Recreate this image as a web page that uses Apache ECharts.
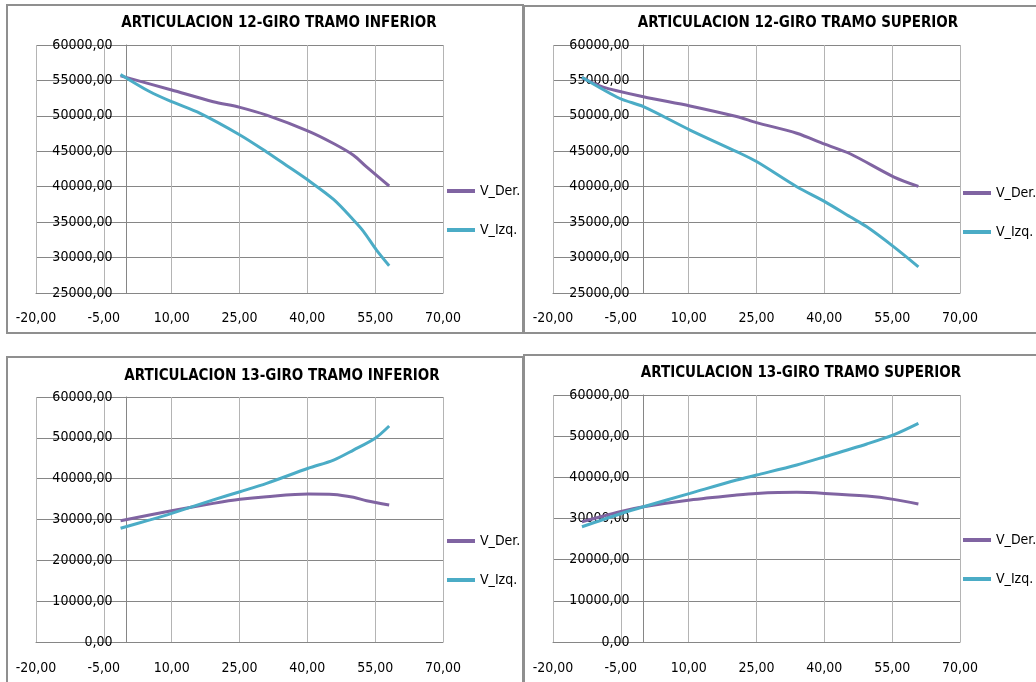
<!DOCTYPE html>
<html>
<head>
<meta charset="utf-8">
<title>Articulaciones 12 y 13 - Giro</title>
<script src="https://cdn.jsdelivr.net/npm/echarts@6/dist/echarts.min.js"></script>
<style>
  html, body { margin: 0; padding: 0; background: #ffffff; }
  #chart { width: 1036px; height: 682px; }
</style>
</head>
<body>
<div id="chart"></div>
<script>
// Panel titles
const titles = [
  'ARTICULACION 12-GIRO TRAMO INFERIOR',
  'ARTICULACION 12-GIRO TRAMO SUPERIOR',
  'ARTICULACION 13-GIRO TRAMO INFERIOR',
  'ARTICULACION 13-GIRO TRAMO SUPERIOR'
];
const seriesNames = ['V_Der.', 'V_Izq.'];

// Axis ticks
const xTicks = [-20, -5, 10, 25, 40, 55, 70];
const yTicks12 = [25000, 30000, 35000, 40000, 45000, 50000, 55000, 60000];
const yTicks13 = [0, 10000, 20000, 30000, 40000, 50000, 60000];

// Articulación 12 - tramo inferior  [giro, V]
const art12InfDer = [[-1.3,55650],[10.0,53650],[19.2,52000],[25.1,51200],[31.0,50100],[40.2,47850],[45.8,46100],[50.2,44450],[53.1,42800],[58.1,40100]];
const art12InfIzq = [[-1.3,55850],[5.2,53400],[10.0,52000],[16.3,50350],[25.1,47300],[31.0,44900],[35.4,43000],[40.2,40900],[45.8,38200],[50.2,35300],[52.4,33700],[55.3,31050],[58.1,28850]];

// Articulación 12 - tramo superior
const art12SupDer = [[-13.6,55400],[-8.9,54050],[0,52700],[10.3,51400],[20.6,49900],[25.0,49050],[33.9,47550],[40.1,46000],[45.7,44650],[55.3,41400],[60.8,40050]];
const art12SupIzq = [[-13.6,55450],[-5.2,52450],[0,51300],[10.3,48000],[20.6,44950],[25.0,43550],[33.9,40000],[40.1,37900],[45.7,35750],[49.4,34350],[55.3,31550],[60.8,28700]];

// Articulación 13 - tramo inferior
const art13InfDer = [[-1.3,29700],[10.0,32150],[19.2,33950],[25.1,34950],[31.0,35600],[40.2,36250],[45.8,36150],[50.2,35450],[53.1,34600],[58.1,33550]];
const art13InfIzq = [[-1.3,27850],[5.2,29900],[10.0,31500],[19.2,34800],[25.1,36800],[31.0,38850],[40.2,42550],[45.8,44550],[50.2,47000],[55.0,49900],[58.1,52900]];

// Articulación 13 - tramo superior
const art13SupDer = [[-13.6,29200],[-5.2,31650],[0,32850],[10.3,34500],[20.6,35700],[25.0,36100],[33.9,36350],[40.1,36100],[49.4,35450],[55.3,34650],[60.8,33500]];
const art13SupIzq = [[-13.6,28000],[-5.2,31100],[0,32850],[10.3,36100],[20.6,39350],[25.0,40550],[33.9,43000],[40.1,45000],[49.4,48100],[55.3,50300],[60.8,53100]];

const panelData = [
  [art12InfDer, art12InfIzq],
  [art12SupDer, art12SupIzq],
  [art13InfDer, art13InfIzq],
  [art13SupDer, art13SupIzq]
];
const panelYTicks = [yTicks12, yTicks12, yTicks13, yTicks13];

// Layout of the four panels (page pixels)
const panels = [
  { box: [7, 5, 516, 328],   grid: [36, 45, 407, 248],  titleX: 279, titleY: 16,  legendX: 447, legendY: 181 },
  { box: [524, 6, 520, 327], grid: [553, 45, 407, 248], titleX: 798, titleY: 16,  legendX: 963, legendY: 183 },
  { box: [7, 357, 516, 340], grid: [36, 397, 407, 245], titleX: 282, titleY: 369, legendX: 447, legendY: 531 },
  { box: [524, 355, 520, 340], grid: [553, 395, 407, 247], titleX: 801, titleY: 366, legendX: 963, legendY: 530 }
];

const colors = ['#8064a2', '#4bacc6'];
const FONT = "'DejaVu Sans Condensed', 'Liberation Sans Narrow', sans-serif";
const fmt = v => v.toFixed(2).replace('.', ',');

const option = {
  animation: false,
  backgroundColor: '#ffffff',
  title: [], legend: [], grid: [], xAxis: [], yAxis: [], series: [],
  graphic: []
};

panels.forEach((p, i) => {
  const yt = panelYTicks[i];
  const xMin = xTicks[0], xMax = xTicks[xTicks.length - 1];
  // vertical value axis sits on giro = 0, labels next to it
  const yAxisShift = -((0 - xMin) / (xMax - xMin)) * p.grid[2];

  option.graphic.push({
    type: 'rect', z: -10, silent: true,
    shape: { x: p.box[0], y: p.box[1], width: p.box[2], height: p.box[3] },
    style: { fill: 'none', stroke: '#8f8f8f', lineWidth: 2 }
  });
  option.title.push({
    text: titles[i], left: p.titleX, top: p.titleY, textAlign: 'center', padding: 0,
    textStyle: { fontFamily: FONT, fontSize: 15, fontWeight: 'bold', color: '#000000' }
  });
  option.grid.push({
    left: p.grid[0], top: p.grid[1], width: p.grid[2], height: p.grid[3],
    containLabel: false, outerBoundsMode: 'none'
  });
  option.xAxis.push({
    type: 'value', gridIndex: i,
    min: xMin, max: xMax, interval: xTicks[1] - xTicks[0],
    axisLine: { show: true, onZero: false, lineStyle: { color: '#868686', width: 1 } },
    axisTick: { show: false },
    axisLabel: { formatter: fmt, margin: i < 2 ? 18 : 19, fontFamily: FONT, fontSize: 14, color: '#000000' },
    splitLine: { show: true, lineStyle: { color: '#b4b4b4', width: 1 } }
  });
  option.yAxis.push({
    type: 'value', gridIndex: i, position: 'left', offset: yAxisShift,
    min: yt[0], max: yt[yt.length - 1], interval: yt[1] - yt[0],
    axisLine: { show: true, onZero: false, lineStyle: { color: '#868686', width: 1 } },
    axisTick: { show: false },
    axisLabel: { formatter: fmt, margin: 14, fontFamily: FONT, fontSize: 14, color: '#000000' },
    splitLine: { show: true, lineStyle: { color: '#868686', width: 1 } }
  });
  seriesNames.forEach((name, k) => {
    option.series.push({
      type: 'line', name: name, xAxisIndex: i, yAxisIndex: i,
      data: panelData[i][k], showSymbol: false, symbol: 'none',
      smooth: 0.3,
      lineStyle: { color: colors[k], width: 3 }, itemStyle: { color: colors[k] }
    });
  });
  option.legend.push({
    orient: 'vertical', left: p.legendX, top: p.legendY, padding: 0,
    itemWidth: 28, itemHeight: 4, itemGap: 19, icon: 'rect',
    data: seriesNames,
    textStyle: { fontFamily: FONT, fontSize: 14, color: '#000000', lineHeight: 20 }
  });
});

const chart = echarts.init(document.getElementById('chart'), null, { renderer: 'canvas' });
chart.setOption(option);
</script>
</body>
</html>
